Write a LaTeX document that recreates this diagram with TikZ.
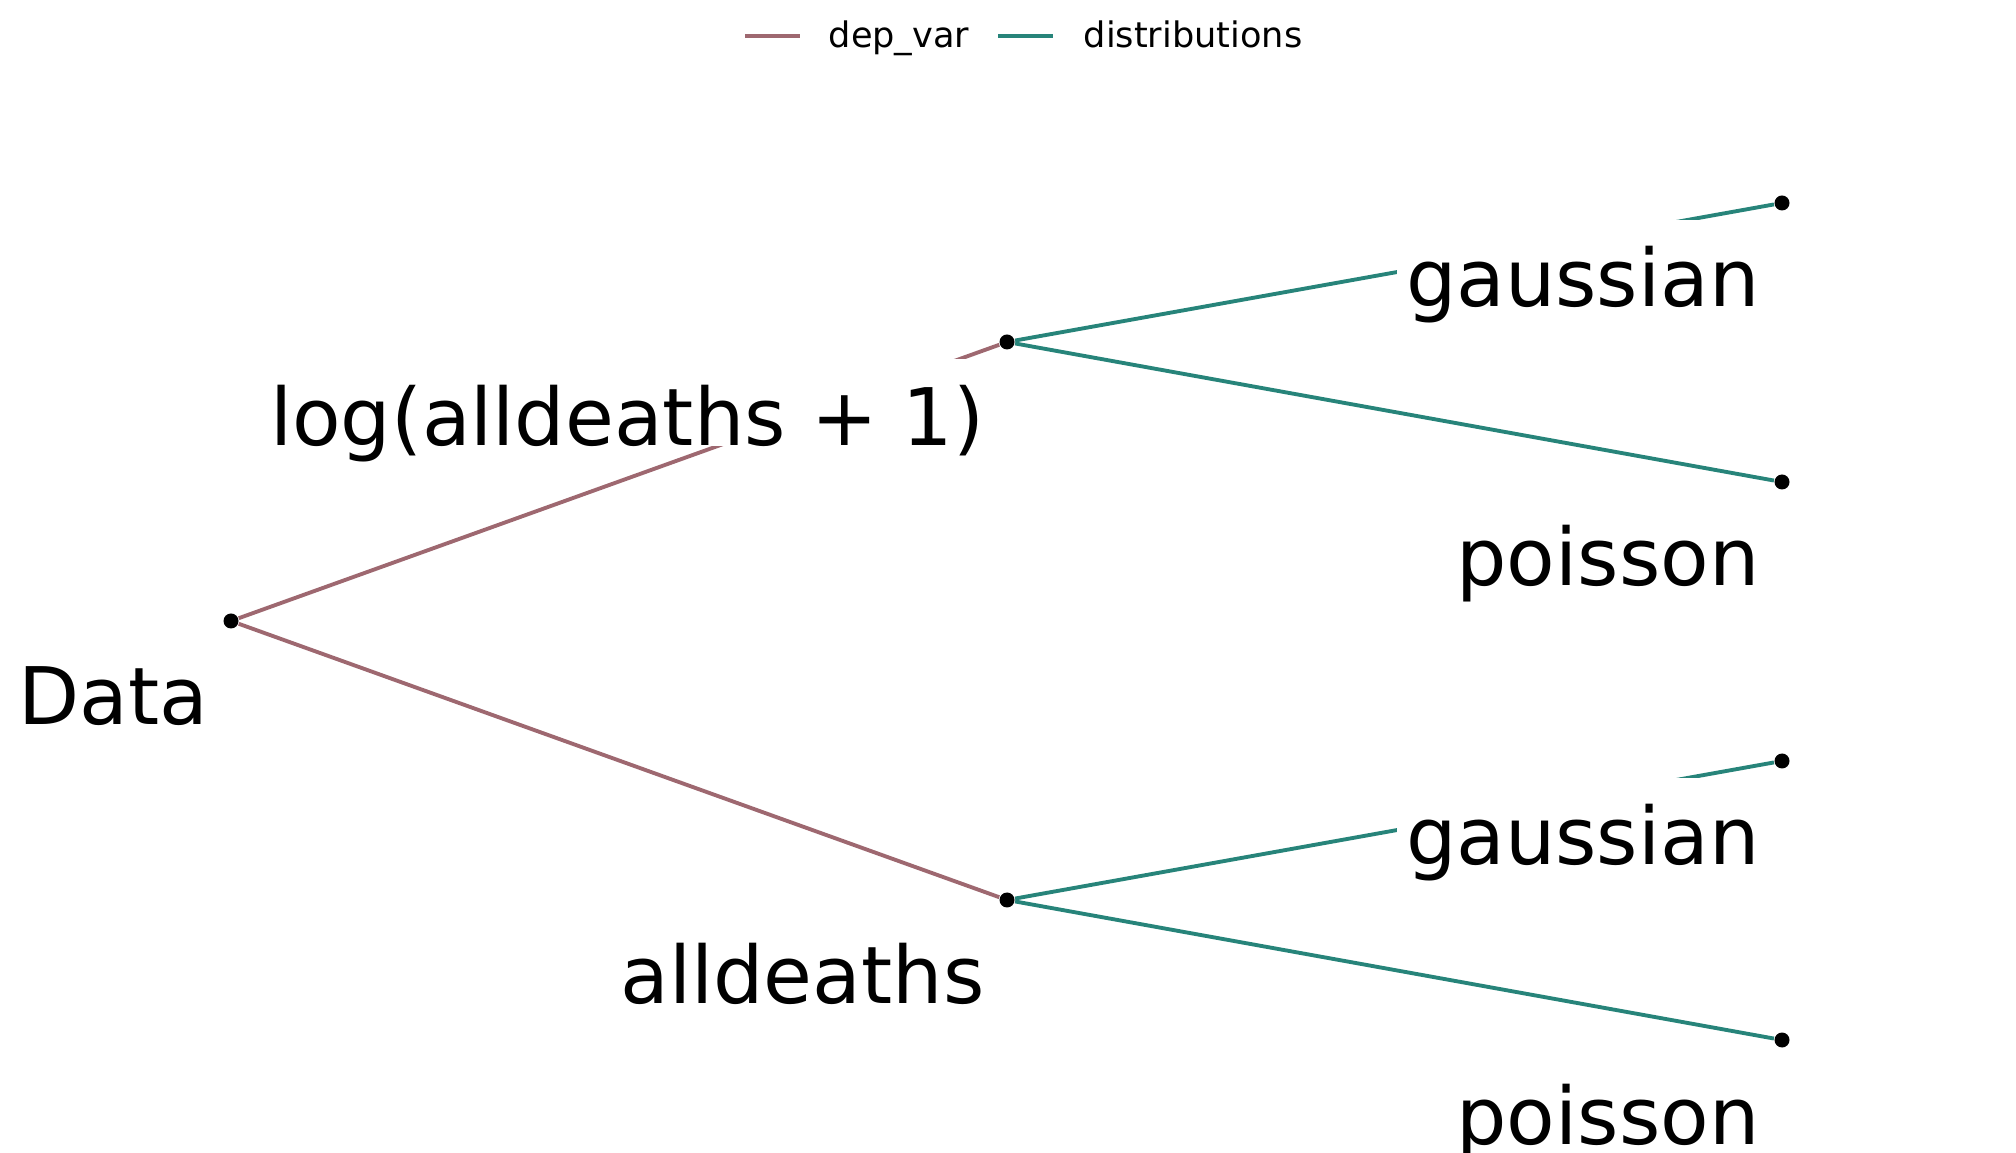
\documentclass[tikz,border=0pt]{standalone}
\usepackage{fontspec}
\setmainfont{DejaVu Sans}
\definecolor{depvar}{HTML}{9E6870}
\definecolor{distr}{HTML}{27847A}

\begin{document}
\begin{tikzpicture}[x=1cm,y=1cm]

      \useasboundingbox (0,0) rectangle (20.16,11.52);

      \begin{scope}[every node/.style={circle,fill=black,inner sep=0pt,minimum size=0.15cm}]
        \node (data) at (2.31,5.31) {};
        \node (log)  at (10.07,8.10) {};
        \node (all)  at (10.07,2.52) {};
        \node (lg)   at (17.82,9.49) {};
        \node (lp)   at (17.82,6.70) {};
        \node (ag)   at (17.82,3.91) {};
        \node (ap)   at (17.82,1.12) {};
      \end{scope}

      \begin{scope}[line width=1.1pt]
        \path (data) edge[depvar] (log);
        \path (data) edge[depvar] (all);
        \path (log)  edge[distr] (lg);
        \path (log)  edge[distr] (lp);
        \path (all)  edge[distr] (ag);
        \path (all)  edge[distr] (ap);
      \end{scope}

      \begin{scope}[every node/.style={anchor=base east, fill=white, inner xsep=0.09cm, inner ysep=0pt,
          text height=0.87cm, text depth=0pt, font=\fontsize{22.6pt}{27pt}\selectfont}]
        \node (data-t) at ([shift={(-0.13,-1.04)}]data) {Data};
        \node (log-t)  at ([shift={(-0.13,-1.04)}]log)  {log(alldeaths + 1)};
        \node (all-t)  at ([shift={(-0.13,-1.04)}]all)  {alldeaths};
        \node (lg-t)   at ([shift={(-0.13,-1.04)}]lg)   {gaussian};
        \node (lp-t)   at ([shift={(-0.13,-1.04)}]lp)   {poisson};
        \node (ag-t)   at ([shift={(-0.13,-1.04)}]ag)   {gaussian};
        \node (ap-t)   at ([shift={(-0.13,-1.04)}]ap)   {poisson};
      \end{scope}

      % legend
      \begin{scope}[every node/.style={anchor=base west, inner sep=0pt, font=\fontsize{10pt}{12pt}\selectfont}]
        \draw[depvar, line width=1.1pt] (7.45,11.16) -- (8.00,11.16);
        \node (key1) at (8.28,11.04) {dep\_var};
        \draw[distr, line width=1.1pt] (9.98,11.16) -- (10.53,11.16);
        \node (key2) at (10.83,11.04) {distributions};
      \end{scope}

    \end{tikzpicture}
\end{document}
